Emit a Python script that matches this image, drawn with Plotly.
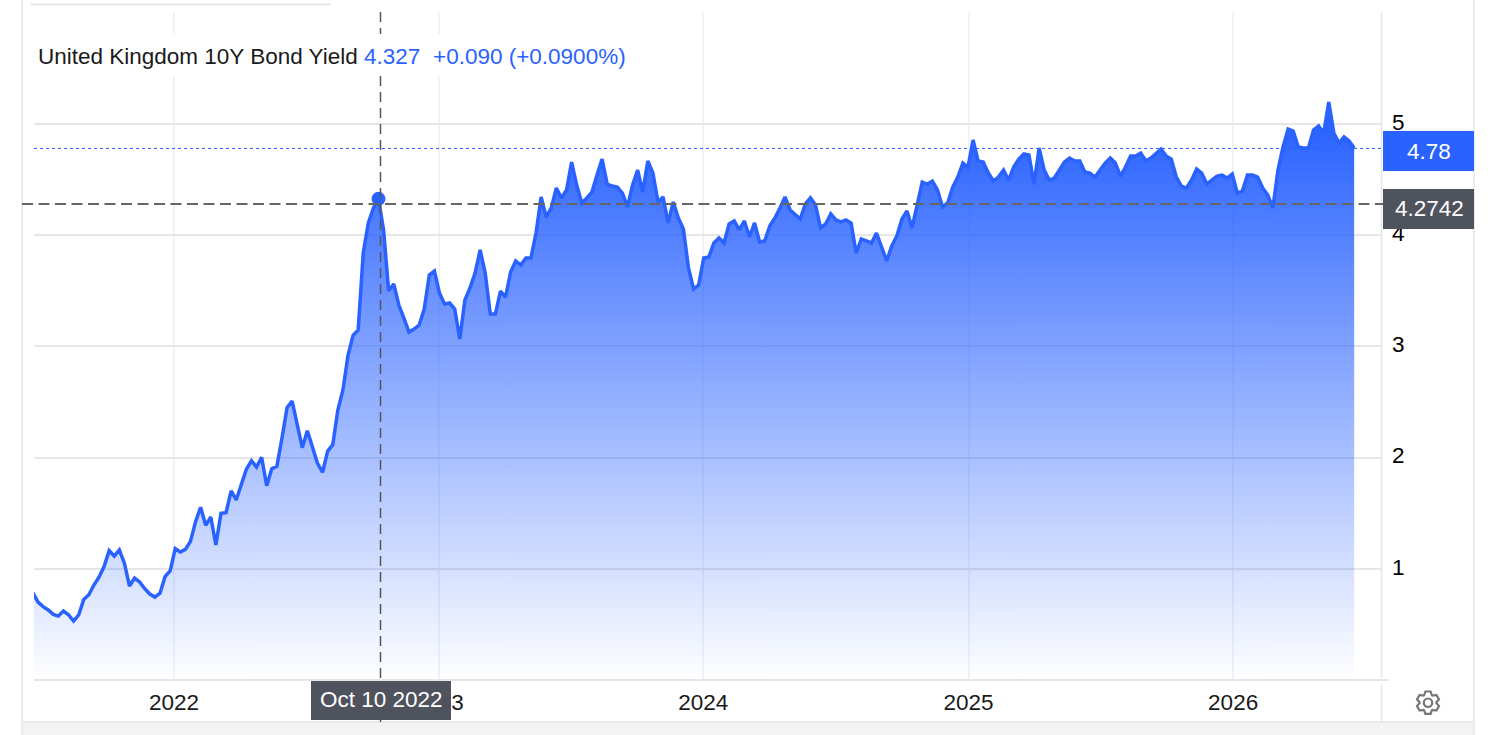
import math
import pandas as pd
import plotly.graph_objects as go

# ---- data (weekly) ----
first_week = "2021-06-20 07:00"
yields = [
 0.785,0.70,0.66,0.63,0.59,0.575,0.62,0.587,0.53,0.585,0.725,0.767,0.854,0.924,1.02,1.163,1.115,1.169,1.05,0.845,
 0.917,0.881,0.821,0.773,0.746,0.78,0.929,0.98,1.181,1.151,1.175,1.247,1.424,1.553,1.391,1.466,1.214,1.499,1.505,1.70,
 1.619,1.769,1.895,1.972,1.915,2.003,1.747,1.90,1.922,2.174,2.449,2.509,2.308,2.089,2.242,2.098,1.949,1.868,2.059,2.116,
 2.428,2.608,2.92,3.10,3.147,3.84,4.11,4.245,4.327,4.047,3.50,3.561,3.372,3.255,3.129,3.156,3.192,3.336,3.642,3.678,
 3.48,3.381,3.39,3.336,3.067,3.417,3.525,3.66,3.867,3.66,3.291,3.291,3.498,3.444,3.669,3.768,3.732,3.795,3.795,4.02,
 4.344,4.164,4.245,4.424,4.335,4.406,4.658,4.451,4.29,4.335,4.388,4.541,4.685,4.46,4.442,4.433,4.379,4.254,4.451,4.586,
 4.388,4.667,4.559,4.299,4.344,4.11,4.299,4.155,4.056,3.705,3.516,3.552,3.795,3.804,3.93,3.975,3.93,4.101,4.128,4.047,
 4.128,3.984,4.11,3.939,3.948,4.083,4.155,4.245,4.344,4.227,4.182,4.146,4.281,4.335,4.272,4.065,4.101,4.191,4.137,4.119,
 4.137,4.11,3.84,3.966,3.948,3.93,4.02,3.903,3.768,3.903,3.993,4.146,4.218,4.065,4.272,4.478,4.46,4.487,4.406,4.254,
 4.29,4.433,4.523,4.649,4.613,4.856,4.667,4.658,4.559,4.487,4.523,4.586,4.496,4.613,4.685,4.73,4.721,4.46,4.784,4.586,
 4.496,4.514,4.586,4.658,4.694,4.667,4.667,4.568,4.559,4.523,4.586,4.649,4.694,4.649,4.532,4.613,4.712,4.712,4.739,4.667,
 4.694,4.739,4.775,4.712,4.685,4.523,4.442,4.424,4.496,4.595,4.559,4.46,4.496,4.532,4.541,4.514,4.55,4.379,4.397,4.541,
 4.541,4.523,4.424,4.361,4.245,4.586,4.793,4.955,4.937,4.793,4.784,4.784,4.946,4.982,4.919,5.198,4.919,4.829,4.883,4.847,4.784,
]
year_ticks = ["2022-01-01","2023-01-01","2024-01-01","2025-01-01","2026-01-01"]
year_labels = ["2022","2023","2024","2025","2026"]
y_ticks = [1,2,3,4,5]
hover_date = "2022-10-10"
hover_value = 4.327
cross_value = 4.2742
last_value = 4.78

dates = pd.date_range(first_week, periods=len(yields), freq="10095min")

BLUE = "#2962ff"
DARK = "#4f535e"
FRAME = "#e6e6e6"
L, R, T, B = 34, 1381, 12, 680
FONT = "Liberation Sans"
FS = 22.5

def px(x):
    return (x - L) / (R - L)

def py(y):
    return (B - y) / (B - T)

fig = go.Figure()
fig.add_trace(go.Scatter(
    x=dates, y=yields, mode="lines", fill="tozeroy",
    line=dict(color=BLUE, width=3.5, shape="linear"),
    fillgradient=dict(type="vertical", start=0, stop=5.0,
                      colorscale=[[0, "rgba(41,98,255,0.0)"], [1, "rgba(41,98,255,1.0)"]]),
    hoverinfo="skip", showlegend=False, cliponaxis=False,
))
fig.add_trace(go.Scatter(
    x=[hover_date], y=[hover_value], mode="markers",
    marker=dict(color=BLUE, size=14), hoverinfo="skip", showlegend=False, cliponaxis=False,
))

shapes = []
def line(x0, y0, x1, y1, color=FRAME, width=1.5, dash="solid", layer="above"):
    shapes.append(dict(type="line", xref="paper", yref="paper", x0=px(x0), y0=py(y0), x1=px(x1), y1=py(y1),
                       line=dict(color=color, width=width, dash=dash), layer=layer))
def rect(x0, y0, x1, y1, color, layer="above"):
    shapes.append(dict(type="rect", xref="paper", yref="paper", x0=px(x0), y0=py(y0), x1=px(x1), y1=py(y1),
                       fillcolor=color, line=dict(width=0), layer=layer))

# frame
rect(22, 722, 1474, 735, "#f3f3f3", "below")
line(22, 0, 22, 735)
line(1474, 0, 1474, 735)
line(22, 722, 1474, 722)
line(31, 4.5, 330, 4.5, "#dedede")
line(1381.5, 12, 1381.5, 678)
line(1381.5, 684, 1381.5, 722)
line(34, 680, 1389, 680, FRAME, 2)

# current-value dotted line and crosshair
shapes.append(dict(type="line", xref="paper", yref="y", x0=0, x1=1, y0=last_value, y1=last_value,
                   line=dict(color=BLUE, width=1, dash="dot"), layer="above"))
line(22, 204, 1383, 204, "#666666", 2, "11px,5.5px")
line(380.5, 12, 380.5, 722, "#555555", 1.5, "10px,6px")

# white box behind the heading
rect(34, 34, 640, 76, "#ffffff")

# value boxes
rect(1383, 131, 1474, 171, BLUE)
rect(1383, 189, 1474, 229, DARK)
rect(311, 681, 451, 720, DARK)

# settings gear (pixel-sized path anchored on the paper)
gx, gy = px(1428), py(702.7)
pts = []
for i in range(6):
    a = math.radians(60 * i - 90)
    for da, r in ((-27, 8.5), (-13, 11.5), (13, 11.5), (27, 8.5)):
        t = a + math.radians(da)
        pts.append((r * math.cos(t), r * math.sin(t)))
gear = "M" + " L".join(f"{x:.2f},{y:.2f}" for x, y in pts) + " Z"
shapes.append(dict(type="path", xref="paper", yref="paper", xsizemode="pixel", ysizemode="pixel",
                   xanchor=gx, yanchor=gy, path=gear, fillcolor="#ffffff",
                   line=dict(color="#777777", width=2.2), layer="above"))
shapes.append(dict(type="circle", xref="paper", yref="paper", xsizemode="pixel", ysizemode="pixel",
                   xanchor=gx, yanchor=gy, x0=-4.2, x1=4.2, y0=-4.2, y1=4.2,
                   line=dict(color="#777777", width=2.2), layer="above"))

def text(x, y, s, color, anchor="left", size=FS):
    return dict(xref="paper", yref="paper", x=px(x), y=py(y), text=s, showarrow=False, xanchor=anchor,
                yanchor="middle", font=dict(family=FONT, size=size, color=color))

fig.update_layout(
    width=1502, height=735, autosize=False,
    margin=dict(l=L, r=1502 - R, t=T, b=735 - B, pad=0),
    paper_bgcolor="#ffffff", plot_bgcolor="#ffffff",
    font=dict(family=FONT, size=FS, color="#1a1a1a"),
    shapes=shapes,
    annotations=[
        text(36, 57, "United Kingdom 10Y Bond Yield", "#1a1a1a"),
        text(362, 57, f"{hover_value:.3f}", BLUE),
        text(431, 57, "+0.090 (+0.0900%)", BLUE),
        text(1428.5, 151, f"{last_value:.2f}", "#ffffff", "center"),
        text(1429.5, 209, f"{cross_value:.4f}", "#ffffff", "center"),
        text(381, 699, "Oct 10 2022", "#ffffff", "center"),
    ],
    xaxis=dict(
        type="date", range=["2021-06-21 18:00", "2026-07-24"],
        tickmode="array", tickvals=year_ticks, ticktext=year_labels,
        showgrid=True, gridcolor="#eff3f9", gridwidth=2, zeroline=False, showline=False,
        ticks="", ticklabelstandoff=6, tickfont=dict(family=FONT, size=FS, color="#1a1a1a"),
    ),
    yaxis=dict(
        range=[0, 668 / 111.2], side="right", tickmode="array", tickvals=y_ticks,
        showgrid=True, gridcolor=FRAME, gridwidth=2, zeroline=False, showline=False,
        ticks="", ticklabelstandoff=10, tickfont=dict(family=FONT, size=FS, color="#000000"),
    ),
)

fig.write_html(
    "out.html",
    config={"displayModeBar": False},
    post_script=(
        "document.body.style.margin='0';document.body.style.overflow='hidden';"
        "document.querySelectorAll('.ytick text').forEach(function(t){"
        "t.setAttribute('y',parseFloat(t.getAttribute('y')||0)-2);});"
    ),
)
